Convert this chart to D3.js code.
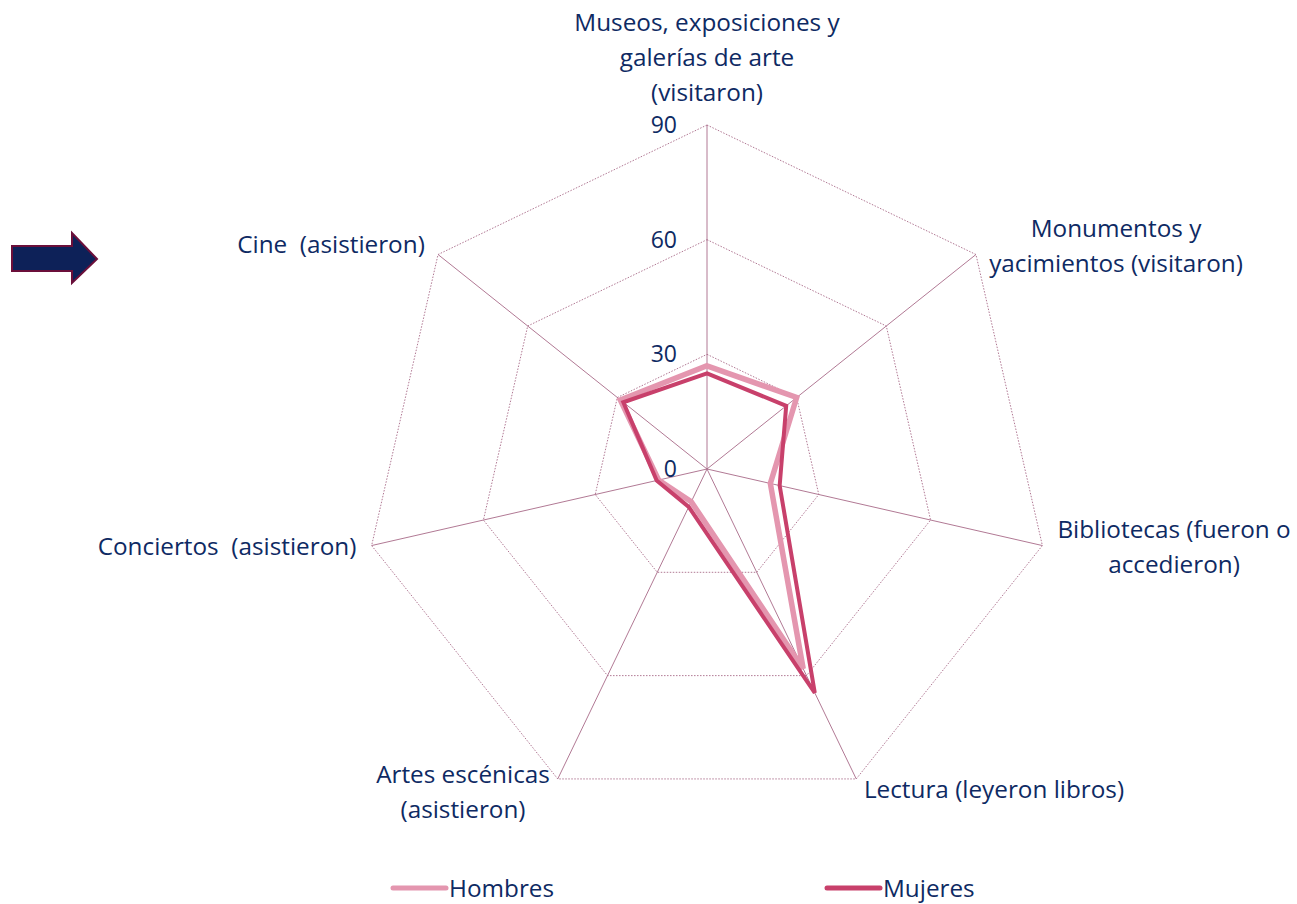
<!DOCTYPE html>
<html>
<head>
<meta charset="utf-8">
<script src="https://cdn.jsdelivr.net/npm/d3@7"></script>
<style>
  html, body { margin: 0; padding: 0; background: #ffffff; }
  svg { display: block; }
  text { font-family: "Open Sans", Lato, sans-serif; fill: #0E2A63; white-space: pre; }
</style>
</head>
<body>
<svg id="chart" width="1297" height="904"></svg>
<script>
// ---- data ----
const categories = [
  "Museos, exposiciones y galerías de arte (visitaron)",
  "Monumentos y yacimientos (visitaron)",
  "Bibliotecas (fueron o accedieron)",
  "Lectura (leyeron libros)",
  "Artes escénicas (asistieron)",
  "Conciertos  (asistieron)",
  "Cine  (asistieron)"
];
const hombres = [27, 30, 17, 58, 9.5, 13, 29];
const mujeres = [25, 26.5, 19.5, 65, 11, 13.5, 28];
const tickValues = [0, 30, 60, 90];
const seriesNames = ["Hombres", "Mujeres"];

// label lines and layout (per category)
const labelLines = [
  ["Museos, exposiciones y", "galerías de arte", "(visitaron)"],
  ["Monumentos y", "yacimientos (visitaron)"],
  ["Bibliotecas (fueron o", "accedieron)"],
  ["Lectura (leyeron libros)"],
  ["Artes escénicas", "(asistieron)"],
  ["Conciertos  (asistieron)"],
  ["Cine  (asistieron)"]
];
const labelPos = [
  {x: 707, y: 31}, {x: 1116, y: 237}, {x: 1174, y: 538}, {x: 994, y: 798},
  {x: 463, y: 783}, {x: 227, y: 555}, {x: 331, y: 253}
];

const colors = { Hombres: "#E496AF", Mujeres: "#C8406B" };
const gridColor = "#A86A88";

const svg = d3.select("#chart");
const cx = 707, cy = 469, R = 344;
const r = d3.scaleLinear().domain([0, 90]).range([0, R]);
const n = categories.length;
const angle = d3.scaleLinear().domain([0, n]).range([0, 2 * Math.PI]);
const pt = (i, v) => [cx + r(v) * Math.sin(angle(i)), cy - r(v) * Math.cos(angle(i))];

const g = svg.append("g");

// grid polygons (dotted)
tickValues.filter(t => t > 0).forEach(t => {
  g.append("polygon")
    .attr("points", d3.range(n).map(i => pt(i, t).join(",")).join(" "))
    .attr("fill", "none")
    .attr("stroke", gridColor)
    .attr("stroke-width", 0.9)
    .attr("stroke-dasharray", "1.5,1.5");
});

// spokes
d3.range(n).forEach(i => {
  const [x2, y2] = pt(i, 90);
  g.append("line")
    .attr("x1", cx).attr("y1", cy).attr("x2", x2).attr("y2", y2)
    .attr("stroke", gridColor).attr("stroke-width", 0.9);
});

// tick labels
g.selectAll("text.tick").data(tickValues).enter().append("text")
  .attr("class", "tick")
  .attr("x", cx - 30)
  .attr("y", d => cy - r(d))
  .attr("dy", "0.35em")
  .attr("text-anchor", "end")
  .attr("font-size", 23)
  .text(d => d);

// series lines
const line = d3.line().curve(d3.curveLinearClosed);
[["Hombres", hombres, 5.5], ["Mujeres", mujeres, 4]].forEach(([name, vals, w]) => {
  g.append("path")
    .attr("d", line(vals.map((v, i) => pt(i, v))))
    .attr("fill", "none")
    .attr("stroke", colors[name])
    .attr("stroke-width", w)
    .attr("stroke-linejoin", "miter");
});

// category labels
labelLines.forEach((lines, i) => {
  const t = g.append("text")
    .attr("x", labelPos[i].x).attr("y", labelPos[i].y)
    .attr("text-anchor", "middle")
    .attr("font-size", 24.3);
  lines.forEach((l, k) => {
    t.append("tspan").attr("x", labelPos[i].x).attr("y", labelPos[i].y + k * 35).text(l);
  });
});

// legend
const legend = svg.append("g");
const legendX = [393, 827];
seriesNames.forEach((name, k) => {
  legend.append("line")
    .attr("x1", legendX[k]).attr("x2", legendX[k] + 53)
    .attr("y1", 888).attr("y2", 888)
    .attr("stroke", colors[name]).attr("stroke-width", 5)
    .attr("stroke-linecap", "round");
  legend.append("text")
    .attr("x", legendX[k] + 56).attr("y", 888)
    .attr("dy", "0.35em")
    .attr("font-size", 24.3)
    .text(name);
});

// arrow
svg.append("path")
  .attr("d", "M12,246 L72,246 L72,233 L97,259 L72,283 L72,271 L12,271 Z")
  .attr("fill", "#0D2158")
  .attr("stroke", "#6B0F3A")
  .attr("stroke-width", 2);
</script>
</body>
</html>
